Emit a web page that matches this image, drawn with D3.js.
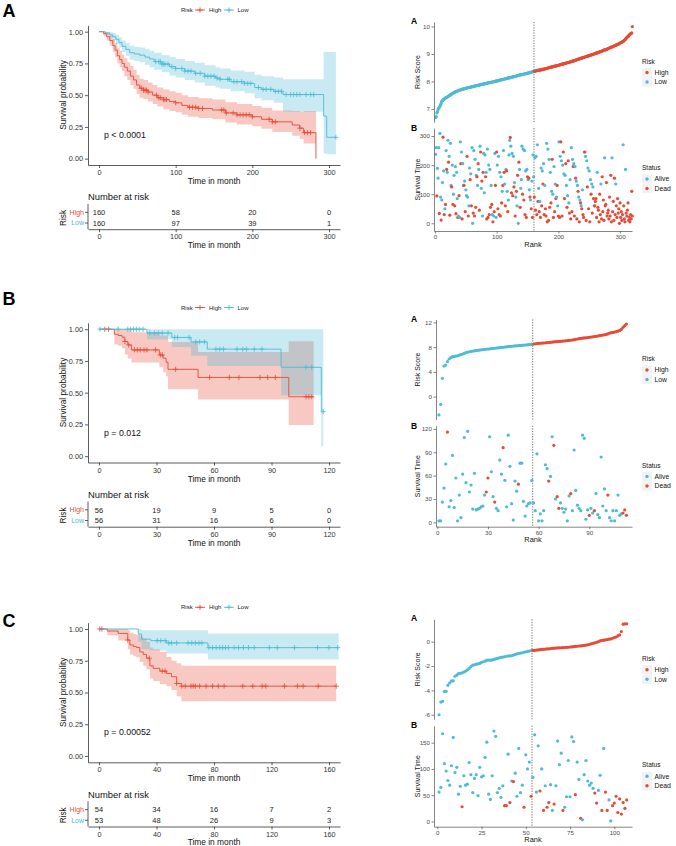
<!DOCTYPE html>
<html><head><meta charset="utf-8">
<script src="https://cdn.jsdelivr.net/npm/d3@7"></script>
<style>body{margin:0;background:#fff}svg{display:block}text{font-family:"Liberation Sans",Arial,sans-serif}</style>
</head><body><svg id="c" width="676" height="846"></svg>
<script>
// ---------------- DATA ----------------
const panelLetters = ["A","B","C"];
const groups = ["High","Low"];
const pValues = ["p < 0.0001","p = 0.012","p = 0.00052"];
const survTicks = [0,0.25,0.5,0.75,1];
const kmTicksA = [0,100,200,300];
const kmTicksB = [0,30,60,90,120];
const kmTicksC = [0,40,80,120,160];
const atRiskHighA = [160,58,20,0], atRiskLowA = [160,97,39,1];
const atRiskHighB = [56,19,9,5,0], atRiskLowB = [56,31,16,6,0];
const atRiskHighC = [54,34,16,7,2], atRiskLowC = [53,48,26,9,3];
// KM steps: [time, survival, lower, upper]
const kmAHigh = [[0,1,1,1],[6,0.985,0.965,1],[10,0.96,0.93,0.99],[14,0.93,0.89,0.97],[18,0.89,0.84,0.94],[21,0.855,0.8,0.91],[24,0.81,0.75,0.87],[27,0.78,0.72,0.85],[30,0.75,0.69,0.82],[33,0.72,0.65,0.79],[37,0.69,0.62,0.76],[41,0.65,0.58,0.73],[45,0.62,0.55,0.7],[49,0.58,0.51,0.66],[53,0.555,0.48,0.63],[58,0.54,0.47,0.62],[64,0.525,0.45,0.6],[70,0.5,0.43,0.58],[76,0.48,0.41,0.56],[84,0.465,0.39,0.545],[92,0.45,0.375,0.53],[100,0.44,0.365,0.52],[108,0.42,0.345,0.5],[116,0.405,0.33,0.485],[130,0.395,0.32,0.475],[148,0.383,0.31,0.465],[165,0.36,0.285,0.445],[180,0.345,0.27,0.43],[200,0.33,0.255,0.415],[212,0.31,0.235,0.4],[226,0.29,0.21,0.38],[252,0.265,0.18,0.375],[262,0.24,0.155,0.37],[267,0.205,0.12,0.375],[283,0,0,0]];
const kmALow = [[0,1,1,1],[8,0.99,0.975,1],[14,0.975,0.955,0.995],[18,0.96,0.93,0.99],[22,0.94,0.905,0.975],[26,0.915,0.875,0.955],[30,0.885,0.84,0.93],[35,0.86,0.81,0.91],[40,0.835,0.78,0.89],[46,0.825,0.77,0.88],[53,0.815,0.76,0.875],[60,0.8,0.74,0.865],[66,0.785,0.72,0.85],[72,0.765,0.7,0.835],[82,0.745,0.68,0.815],[92,0.725,0.655,0.8],[100,0.71,0.64,0.785],[112,0.69,0.62,0.77],[125,0.672,0.6,0.755],[138,0.65,0.575,0.735],[152,0.635,0.56,0.72],[158,0.625,0.55,0.71],[172,0.606,0.53,0.695],[190,0.593,0.515,0.685],[203,0.56,0.475,0.66],[212,0.546,0.46,0.65],[228,0.53,0.44,0.64],[240,0.505,0.37,0.625],[293,0.335,0.04,0.84],[297,0.168,0.035,0.84],[309,0.168,0.035,0.84]];
const kmBHigh = [[0,1,1,1],[8,0.96,0.88,1],[10,0.95,0.87,1],[12,0.937,0.85,1],[13.5,0.903,0.8,1],[15,0.876,0.77,1],[17,0.837,0.737,0.975],[31.5,0.797,0.7,0.95],[33.5,0.771,0.66,0.95],[35,0.74,0.63,0.95],[36,0.684,0.526,0.9],[51.7,0.62,0.447,0.82],[99,0.468,0.245,0.905],[112,0.468,0.245,0.905]];
const kmBLow = [[0,1,1,1],[25,0.97,0.92,1],[38,0.935,0.86,1],[48,0.9,0.79,1],[56.5,0.843,0.71,1],[95,0.7,0.48,1],[116,0.35,0.08,1],[117,0.35,0.08,1]];
const kmCHigh = [[0,1,1,1],[5.8,0.984,0.95,1],[13.4,0.965,0.91,1],[20,0.913,0.84,0.99],[21.5,0.874,0.8,0.97],[24,0.862,0.785,0.96],[26,0.855,0.775,0.955],[28.4,0.82,0.74,0.94],[30.8,0.8,0.71,0.925],[33,0.77,0.68,0.9],[35.4,0.71,0.61,0.855],[37.7,0.69,0.59,0.84],[42.3,0.668,0.565,0.82],[47,0.65,0.55,0.78],[50.4,0.624,0.52,0.75],[54,0.571,0.47,0.73],[57.3,0.55,0.43,0.71],[165,0.55,0.43,0.71]];
const kmCLow = [[0,1,1,1],[27.3,0.96,0.9,1],[29.6,0.92,0.84,0.99],[36,0.908,0.83,0.99],[47,0.89,0.807,0.99],[75.8,0.853,0.76,0.965],[166.7,0.853,0.76,0.965]];
// censoring times
const cenAHigh = [55,58,60,62,64,75,78,80,84,86,88,100,118,122,126,130,135,160,163,166,175,180,184,188,192,196,200,222,226,230,262,268,272,276];
const cenALow = [74,78,80,82,84,86,90,95,100,108,112,116,120,126,132,138,142,146,150,154,158,168,170,176,180,186,190,194,198,208,214,218,224,230,234,238,244,250,254,258,262,270,276,280,309];
const cenBHigh = [3,5,13.5,15.5,18.5,20,21.5,23.5,25,29.5,32,33,40,57.7,68,73,84,88,92,108,109.5,111];
const cenBLow = [0.5,10,15,16.5,18,19.5,21,23,26.5,29,31,33,36,39.5,41,47,50.5,52.5,55,61,63,65,72,75,77,81,85,108,111,117];
const cenCHigh = [0.5,2,20,35,44,46,54,57.5,60,64,65.5,67,70,74.5,79,83,87,100,107,113.5,116,129,138,142,152.5,165];
const cenCLow = [40.5,43,46,48.5,50.5,54,62,64.5,67,69.5,71.5,76.5,79,81.5,84,86,88,90,94,97,100.5,104,108,118.5,124,136,152,160,166];

// risk-score panels
const nLow = [160,56,53];
const rankTicksA = [0,100,200,300], rankTicksB = [0,30,60,90], rankTicksC = [0,25,50,75,100];
const scoreTicksA = [7,8,9,10], scoreTicksB = [0,4,8,12], scoreTicksC = [-6,-4,-2,0];
const timeTicksA = [0,100,200,300], timeTicksB = [0,30,60,90,120], timeTicksC = [0,50,100,150];
const statusLabels = ["Alive","Dead"];
const riskA = [
6.69,6.72,6.85,6.9,6.98,7.03,7.06,7.1,7.15,7.2,7.28,7.3,7.33,7.35,7.37,7.38,7.4,7.41,7.42,7.44,
7.45,7.47,7.48,7.5,7.51,7.53,7.54,7.56,7.57,7.59,7.6,7.61,7.62,7.63,7.64,7.65,7.66,7.67,7.68,7.69,
7.69,7.7,7.71,7.71,7.72,7.73,7.73,7.74,7.75,7.75,7.76,7.77,7.77,7.78,7.78,7.79,7.79,7.8,7.8,7.81,
7.81,7.82,7.82,7.83,7.84,7.84,7.85,7.85,7.86,7.86,7.87,7.87,7.88,7.88,7.89,7.89,7.9,7.9,7.91,7.91,
7.92,7.92,7.93,7.94,7.94,7.95,7.95,7.96,7.96,7.97,7.97,7.98,7.98,7.99,7.99,8.0,8.0,8.01,8.01,8.02,
8.02,8.03,8.03,8.04,8.05,8.05,8.06,8.06,8.07,8.07,8.08,8.09,8.09,8.1,8.1,8.11,8.11,8.12,8.13,8.13,
8.14,8.14,8.15,8.15,8.16,8.17,8.17,8.18,8.18,8.19,8.19,8.2,8.21,8.21,8.22,8.22,8.23,8.24,8.24,8.25,
8.25,8.26,8.26,8.27,8.27,8.28,8.29,8.29,8.3,8.3,8.31,8.31,8.32,8.32,8.33,8.34,8.34,8.35,8.36,8.37,
8.37,8.38,8.38,8.39,8.39,8.4,8.4,8.41,8.41,8.42,8.42,8.43,8.43,8.44,8.44,8.45,8.45,8.46,8.46,8.47,
8.48,8.48,8.49,8.5,8.5,8.51,8.51,8.52,8.53,8.53,8.54,8.54,8.55,8.56,8.56,8.57,8.57,8.58,8.58,8.59,
8.6,8.6,8.61,8.62,8.62,8.63,8.63,8.64,8.65,8.65,8.66,8.67,8.67,8.68,8.69,8.69,8.7,8.7,8.71,8.72,
8.72,8.73,8.74,8.75,8.75,8.76,8.77,8.78,8.79,8.79,8.8,8.81,8.82,8.82,8.83,8.84,8.85,8.85,8.86,8.87,
8.88,8.88,8.89,8.9,8.91,8.91,8.92,8.93,8.94,8.94,8.95,8.96,8.97,8.97,8.98,8.99,9.0,9.0,9.01,9.02,
9.03,9.04,9.04,9.05,9.06,9.07,9.08,9.09,9.09,9.1,9.11,9.12,9.13,9.14,9.15,9.15,9.16,9.17,9.18,9.19,
9.2,9.21,9.22,9.23,9.24,9.25,9.26,9.27,9.28,9.29,9.3,9.31,9.32,9.33,9.34,9.35,9.36,9.37,9.38,9.4,
9.41,9.42,9.43,9.45,9.46,9.48,9.5,9.52,9.55,9.57,9.6,9.62,9.64,9.66,9.7,9.72,9.73,9.75,9.77,10.0];
const timeA = [
237,260,94,189,155,260,34,309,90,11,80,140,296,180,30,50,65,250,185,175,
285,210,230,28,275,130,125,200,65,100,165,60,195,33,175,85,20,25,95,20,
280,205,245,15,205,130,130,145,40,115,95,230,90,25,60,190,150,170,60,260,
0,35,250,25,220,55,165,160,130,205,185,45,265,245,120,145,25,175,240,105,
235,160,175,15,255,20,200,30,185,55,130,65,30,5,25,40,240,130,20,245,
200,50,230,30,175,25,160,70,110,130,250,175,135,60,185,180,110,40,80,235,
285,295,265,105,240,95,230,125,140,25,90,110,60,165,0,210,185,55,120,150,
265,100,255,80,250,30,180,20,185,160,150,155,115,90,80,50,145,20,235,160,
90,225,45,230,30,270,75,120,40,75,20,190,60,180,135,205,30,130,50,25,
275,5,255,10,220,55,175,70,110,220,100,20,195,40,135,85,90,130,60,25,
280,20,230,280,215,25,200,245,170,85,165,205,130,55,95,215,70,35,150,15,
260,40,220,195,205,25,195,155,145,15,130,110,90,5,80,70,60,50,115,30,
20,245,245,230,10,215,125,190,50,180,5,150,100,135,35,125,85,60,60,75,
85,20,175,55,45,5,100,30,135,15,160,40,80,10,225,60,65,140,25,35,
45,15,90,25,165,5,225,40,75,10,155,30,135,60,20,85,35,50,0,70,
20,40,10,30,270,60,15,5,185,35,25,45,70,10,20,5,30,15,110,25];
const statusA = [
0,0,1,0,0,0,1,0,0,1,0,0,1,0,1,0,1,0,1,0,
0,1,0,1,0,0,1,0,1,0,0,1,0,1,0,0,1,0,1,0,
0,1,0,1,0,0,1,0,1,0,0,1,0,1,0,0,1,0,1,0,
0,1,0,1,0,1,0,1,0,1,0,1,0,1,0,1,0,1,0,0,
0,1,0,1,0,1,0,1,0,1,0,1,0,1,0,1,0,1,0,1,
0,1,0,1,0,1,0,1,0,1,0,1,0,1,0,1,0,1,0,0,
0,1,0,1,0,1,0,1,0,1,0,1,0,1,0,1,0,1,0,0,
0,1,0,1,0,1,0,1,0,1,0,1,0,1,0,1,0,1,0,0,
1,0,1,0,1,0,1,0,1,0,1,0,1,0,1,0,1,0,1,1,
0,1,0,1,0,1,0,1,0,1,0,1,0,1,0,1,0,1,0,1,
0,1,0,1,0,1,0,1,0,1,0,1,0,1,0,1,0,1,0,1,
0,1,0,1,0,1,0,1,0,1,0,1,0,1,0,1,0,1,0,1,
1,0,1,0,1,0,1,0,1,0,1,0,1,0,1,0,1,0,1,1,
1,1,0,1,1,1,1,1,0,1,1,1,1,1,0,1,1,1,1,1,
1,1,1,1,1,1,0,1,1,1,1,1,0,1,1,1,1,1,1,1,
1,1,1,1,0,1,1,1,0,1,1,1,1,1,1,1,1,1,1,1];
const riskB = [
-2.96,-1.24,2.96,4.95,5.1,5.65,6.08,6.3,6.46,6.5,
6.55,6.6,6.7,6.8,6.89,7.0,7.1,7.2,7.25,7.3,
7.37,7.4,7.44,7.48,7.53,7.56,7.6,7.63,7.66,7.7,
7.72,7.75,7.78,7.82,7.86,7.88,7.92,7.95,7.98,8.02,
8.05,8.08,8.11,8.14,8.18,8.2,8.22,8.24,8.27,8.29,
8.31,8.34,8.36,8.39,8.42,8.45,
8.5,8.53,8.57,8.61,8.63,8.65,8.67,8.69,8.72,8.75,
8.78,8.81,8.84,8.88,8.9,8.92,8.94,8.96,8.99,9.02,
9.05,9.08,9.11,9.15,9.2,9.26,9.31,9.36,9.42,9.45,
9.48,9.51,9.54,9.58,9.62,9.66,9.7,9.75,9.8,9.85,
9.9,9.95,10.0,10.06,10.15,10.25,10.33,10.38,10.44,10.52,
10.6,10.7,10.87,11.2,11.46,11.73];
const timeB = [
2,2,26,44,75,116,20,28,86,19,
57,2,35,6,62,109,51,117,39,48,
17,63,16,17,18,20,21,35,39,57,
110,65,33,26,18,15,80,62,96,54,
20,112,72,24,3,53,40,49,76,76,
27,8,21,24,25,54,25,15,88,2,
11,2,15,74,69,53,59,110,99,30,
33,18,25,18,13,17,2,34,37,15,
93,41,22,18,15,112,108,4,16,9,
18,12,15,37,10,6,84,21,43,15,
35,6,2,15,2,15,35,9,11,12,
16,9];
const statusB = [
0,0,0,0,0,1,0,0,0,0,
0,0,0,0,0,0,0,0,0,0,
0,0,0,0,0,0,0,0,1,1,
0,0,0,1,0,0,0,0,1,0,
0,0,0,0,0,0,0,1,0,0,
0,0,0,0,0,0,0,0,0,0,
0,0,0,0,0,1,0,0,1,0,
1,1,0,0,0,0,0,0,1,0,
0,0,0,0,0,0,0,0,0,1,
0,0,1,0,0,0,0,0,0,0,
1,0,0,0,0,0,0,0,0,1,
1,1];
const riskC = [
-6.0,-4.96,-4.9,-4.08,-4.08,-3.58,-3.39,-3.22,-3.22,-2.84,
-2.75,-2.62,-2.6,-2.56,-2.5,-2.42,-2.32,-2.2,-2.05,-1.93,
-1.9,-1.85,-1.83,-1.79,-1.7,-1.65,-1.6,-1.52,-1.52,-1.52,
-1.5,-1.46,-1.42,-1.38,-1.33,-1.29,-1.27,-1.24,-1.2,-1.18,
-1.17,-1.16,-1.1,-1.05,-1.0,-0.96,-0.94,-0.91,-0.87,-0.83,
-0.8,-0.77,-0.74,
-0.72,-0.71,-0.69,-0.68,-0.66,-0.64,-0.63,-0.62,-0.6,-0.59,
-0.57,-0.55,-0.54,-0.53,-0.52,-0.51,-0.5,-0.49,-0.48,-0.47,
-0.46,-0.44,-0.43,-0.41,-0.39,-0.38,-0.36,-0.35,-0.33,-0.31,
-0.28,-0.26,-0.22,-0.18,-0.14,-0.1,-0.06,0.0,0.06,0.1,
0.12,0.14,0.17,0.2,0.22,0.28,0.33,0.38,0.47,0.55,
0.83,1.43,1.46,1.46];
const timeC = [
56,65,167,110,96,78,69,106,160,93,
103,52,67,28,87,69,71,112,89,55,
82,89,49,103,85,87,122,151,52,42,
87,172,162,55,63,46,68,30,30,128,
36,77,76,92,48,139,55,69,27,127,
100,113,48,84,165,56,144,58,100,21,
68,27,36,70,21,33,68,153,108,130,
21,27,47,116,47,161,152,51,113,80,
6,3,89,116,77,69,73,63,54,35,
59,88,21,139,56,21,41,1,30,35,
48,17,43,14,36,25,41];
const statusC = [
0,0,0,0,0,0,0,0,0,0,
0,0,0,1,0,0,0,0,0,0,
0,0,0,0,0,0,0,0,0,0,
0,0,0,0,0,0,0,1,1,0,
1,0,1,0,0,0,0,0,1,0,
0,0,1,0,0,0,0,1,0,1,
0,1,1,0,0,1,0,0,0,0,
1,0,0,0,0,0,0,1,0,0,
1,0,0,0,0,0,0,0,1,1,
0,0,1,0,1,1,0,0,1,1,
1,1,1,1,1,1,1];

// ---------------- DRAWING ----------------
const RED = "#E64B35", BLUE = "#4DBBD5";
const svg = d3.select("#c");
const rowY = [0, 297.5, 597.3];
const letterBase = [16.5, 305, 626.7];
const plain = v => String(v);

const kmSets = [
  {high:kmAHigh, low:kmALow, cH:cenAHigh, cL:cenALow, ticks:kmTicksA, nH:atRiskHighA, nL:atRiskLowA},
  {high:kmBHigh, low:kmBLow, cH:cenBHigh, cL:cenBLow, ticks:kmTicksB, nH:atRiskHighB, nL:atRiskLowB},
  {high:kmCHigh, low:kmCLow, cH:cenCHigh, cL:cenCLow, ticks:kmTicksC, nH:atRiskHighC, nL:atRiskLowC}
];
const rightSets = [
  {risk:riskA, time:timeA, status:statusA, xL:434, xDom:[-1.6,319.4], rTicks:rankTicksA, sTicks:scoreTicksA, tDom:[-26.5,327.5], tRange:[231,128], tTicks:timeTicksA},
  {risk:riskB, time:timeB, status:statusB, xL:436, xDom:[-0.77,115.3], rTicks:rankTicksB, sTicks:scoreTicksB, tDom:[-5.6,124.2], tRange:[229.2,128.2], tTicks:timeTicksB},
  {risk:riskC, time:timeC, status:statusC, xL:434, xDom:[-1.86,110], rTicks:rankTicksC, sTicks:scoreTicksC, tDom:[-10,182.3], tRange:[229.4,128.4], tTicks:timeTicksC}
];

const cross = "M-2.6,0h5.2M0,-2.6v5.2";

function styleAxis(g, size, col, lineCol){
  g.attr("font-family", null).attr("font-size", null);
  g.selectAll("text").attr("font-size", size).attr("fill", col);
  g.selectAll("path,line").attr("stroke", lineCol).attr("stroke-width", 0.8);
}
function survAt(rows, t){
  let s = rows[0][1];
  for (const r of rows) { if (r[0] <= t) s = r[1]; }
  return s;
}

kmSets.forEach((d, i) => {
  const g = svg.append("g").attr("transform", `translate(0,${rowY[i]})`);
  svg.append("text").attr("x", 2.5).attr("y", letterBase[i]).text(panelLetters[i])
    .attr("font-family", "Liberation Serif").attr("font-weight", "bold").attr("font-size", 18);
  const tmax = d.ticks[d.ticks.length-1];
  const k = 230 / tmax;
  const x = d3.scaleLinear().domain([-11/k, tmax + 11/k]).range([88, 340]);
  const y = d3.scaleLinear().domain([-0.05, 1.05]).range([165, 25.35]);

  // legend
  const lg = g.append("g").attr("font-size", 6);
  lg.append("text").attr("x", 181).attr("y", 12).text("Risk").attr("fill", "#222");
  [[195, RED, groups[0], 209], [224, BLUE, groups[1], 237.5]].forEach(([x0, c, t, tx]) => {
    lg.append("line").attr("x1", x0).attr("x2", x0 + 10).attr("y1", 10).attr("y2", 10).attr("stroke", c).attr("stroke-width", 0.9);
    lg.append("path").attr("d", cross).attr("transform", `translate(${x0 + 5},10)`).attr("stroke", c).attr("stroke-width", 0.9);
    lg.append("text").attr("x", tx).attr("y", 12).text(t).attr("fill", "#222");
  });

  // bands
  [[d.high, RED], [d.low, BLUE]].forEach(([rows, c]) => {
    g.append("path").datum(rows)
      .attr("d", d3.area().curve(d3.curveStepAfter).x(r => x(r[0])).y0(r => y(r[2])).y1(r => y(r[3])))
      .attr("fill", c).attr("fill-opacity", 0.3);
  });
  // lines + censor marks
  [[d.high, RED, d.cH], [d.low, BLUE, d.cL]].forEach(([rows, c, cens]) => {
    g.append("path").datum(rows)
      .attr("d", d3.line().curve(d3.curveStepAfter).x(r => x(r[0])).y(r => y(r[1])))
      .attr("fill", "none").attr("stroke", c).attr("stroke-width", 0.9);
    g.selectAll(null).data(cens).enter().append("path").attr("d", cross)
      .attr("transform", t => `translate(${x(t)},${y(survAt(rows, t))})`)
      .attr("stroke", c).attr("stroke-width", 0.8);
  });

  // axes
  const ax = g.append("g").attr("transform", "translate(0,165)")
    .call(d3.axisBottom(x).tickValues(d.ticks).tickFormat(plain).tickSize(3).tickSizeOuter(0).tickPadding(2));
  styleAxis(ax, 7.3, "#333", "#333");
  const ay = g.append("g").attr("transform", "translate(88,0)")
    .call(d3.axisLeft(y).tickValues(survTicks).tickFormat(d3.format(".2f")).tickSize(3).tickSizeOuter(0).tickPadding(2));
  styleAxis(ay, 7.3, "#333", "#333");
  g.append("text").attr("transform", "translate(66,95) rotate(-90)").attr("text-anchor", "middle")
    .attr("font-size", 8.3).attr("fill", "#111").text("Survival probability");
  g.append("text").attr("x", 214).attr("y", 184).attr("text-anchor", "middle").attr("font-size", 8.4).attr("fill", "#111").text("Time in month");
  g.append("text").attr("x", 104).attr("y", 138).attr("font-size", 8.8).attr("fill", "#111").text(pValues[i]);

  // risk table
  g.append("text").attr("x", 88).attr("y", 200.3).attr("font-size", 9.4).attr("fill", "#111").text("Number at risk");
  const rowsT = [[d.nH, 212.3, RED, groups[0]], [d.nL, 223, BLUE, groups[1]]];
  rowsT.forEach(([vals, yy, c, lab]) => {
    g.selectAll(null).data(vals).enter().append("text")
      .attr("x", (v, j) => x(d.ticks[j])).attr("y", yy + 2.7).attr("text-anchor", "middle")
      .attr("font-size", 7.5).attr("fill", "#222").text(v => v);
    g.append("text").attr("x", 84).attr("y", yy + 2.4).attr("text-anchor", "end").attr("font-size", 7).attr("fill", c).text(lab);
    g.append("line").attr("x1", 85).attr("x2", 88).attr("y1", yy).attr("y2", yy).attr("stroke", "#333").attr("stroke-width", 0.8);
  });
  g.append("line").attr("x1", 88).attr("x2", 88).attr("y1", 204).attr("y2", 229.2).attr("stroke", "#333").attr("stroke-width", 0.8);
  const at = g.append("g").attr("transform", "translate(0,229.2)")
    .call(d3.axisBottom(x).tickValues(d.ticks).tickFormat(plain).tickSize(3).tickSizeOuter(0).tickPadding(2));
  styleAxis(at, 7.3, "#333", "#333");
  g.append("text").attr("transform", "translate(66,218) rotate(-90)").attr("text-anchor", "middle")
    .attr("font-size", 8.3).attr("fill", "#111").text("Risk");
  g.append("text").attr("x", 214).attr("y", 248).attr("text-anchor", "middle").attr("font-size", 8.4).attr("fill", "#111").text("Time in month");
});

rightSets.forEach((d, i) => {
  const g = svg.append("g").attr("transform", `translate(0,${rowY[i]})`);
  const nl = nLow[i];
  const x = d3.scaleLinear().domain(d.xDom).range([d.xL, 632]);
  const ext = d3.extent(d.risk), pad = (ext[1] - ext[0]) * 0.05;
  const yR = d3.scaleLinear().domain([ext[0] - pad, ext[1] + pad]).range([122, 22]);
  const yT = d3.scaleLinear().domain(d.tDom).range(d.tRange);
  const cut = nl + 0.5;

  g.append("text").attr("x", 411).attr("y", 24).attr("font-size", 8.5).attr("font-weight", "bold").text("A");
  g.append("text").attr("x", 411).attr("y", 131).attr("font-size", 8.5).attr("font-weight", "bold").text("B");

  // dotted cut lines
  [[22, 122], [d.tRange[1], d.tRange[0]]].forEach(([a, b]) => {
    g.append("line").attr("x1", x(cut)).attr("x2", x(cut)).attr("y1", a).attr("y2", b)
      .attr("stroke", "#666").attr("stroke-width", 0.9).attr("stroke-dasharray", "1.3,1.3");
  });

  // risk score points
  g.selectAll(null).data(d.risk).enter().append("circle")
    .attr("cx", (v, j) => x(j + 1)).attr("cy", v => yR(v)).attr("r", 1.6)
    .attr("fill", (v, j) => j < nl ? BLUE : RED);
  // survival time points
  g.selectAll(null).data(d.time).enter().append("circle")
    .attr("cx", (v, j) => x(j + 1)).attr("cy", v => yT(v)).attr("r", 1.6)
    .attr("fill", (v, j) => d.status[j] ? RED : BLUE);

  const ayR = g.append("g").attr("transform", `translate(${d.xL},0)`)
    .call(d3.axisLeft(yR).tickValues(d.sTicks).tickFormat(plain).tickSize(2.5).tickSizeOuter(0).tickPadding(1.5));
  styleAxis(ayR, 6.2, "#4D4D4D", "#666");
  const ayT = g.append("g").attr("transform", `translate(${d.xL},0)`)
    .call(d3.axisLeft(yT).tickValues(d.tTicks).tickFormat(plain).tickSize(2.5).tickSizeOuter(0).tickPadding(1.5));
  styleAxis(ayT, 6.2, "#4D4D4D", "#666");
  const axB = g.append("g").attr("transform", `translate(0,${d.tRange[0]})`)
    .call(d3.axisBottom(x).tickValues(d.rTicks).tickFormat(plain).tickSize(2.5).tickSizeOuter(0).tickPadding(1));
  styleAxis(axB, 6.2, "#4D4D4D", "#666");

  g.append("text").attr("transform", "translate(420,72) rotate(-90)").attr("text-anchor", "middle")
    .attr("font-size", 7).attr("fill", "#111").text("Risk Score");
  g.append("text").attr("transform", `translate(420,${(d.tRange[0] + d.tRange[1]) / 2}) rotate(-90)`).attr("text-anchor", "middle")
    .attr("font-size", 7).attr("fill", "#111").text("Survival Time");
  g.append("text").attr("x", 533).attr("y", d.tRange[0] + 15.5).attr("text-anchor", "middle")
    .attr("font-size", 7.4).attr("fill", "#111").text("Rank");

  // legends
  const legs = [[61.5, "Risk", [[groups[0], RED], [groups[1], BLUE]]], [168, "Status", [[statusLabels[0], BLUE], [statusLabels[1], RED]]]];
  legs.forEach(([yy, title, items]) => {
    g.append("text").attr("x", 642).attr("y", yy + 2.2).attr("font-size", 6.5).attr("fill", "#111").text(title);
    items.forEach(([lab, c], j) => {
      const cy = yy + 11 + j * 9.5;
      g.append("rect").attr("x", 642).attr("y", cy - 4.7).attr("width", 10).attr("height", 9.4).attr("fill", "#F2F2F2");
      g.append("circle").attr("cx", 647).attr("cy", cy).attr("r", 1.7).attr("fill", c);
      g.append("text").attr("x", 654.5).attr("y", cy + 2.4).attr("font-size", 6.8).attr("fill", "#111").text(lab);
    });
  });
});
</script></body></html>
